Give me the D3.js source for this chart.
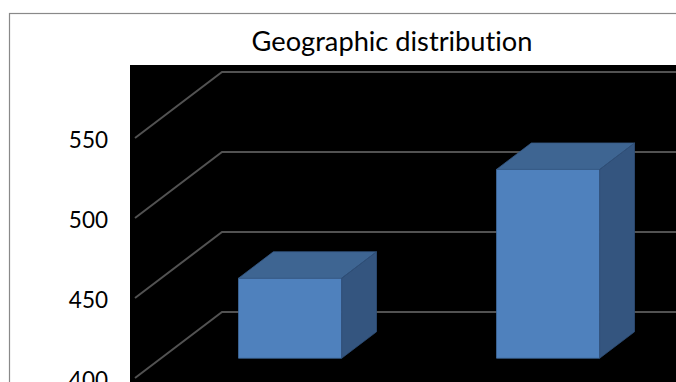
<!DOCTYPE html>
<html>
<head>
<meta charset="utf-8">
<script src="https://cdn.jsdelivr.net/npm/d3@7"></script>
<style>
  html, body { margin: 0; padding: 0; background: #fff; overflow: hidden; }
  svg { display: block; }
  text { font-variant-ligatures: none; font-feature-settings: "liga" 0, "clig" 0; }
</style>
</head>
<body>
<svg id="chart" width="676" height="382"></svg>
<script>
// Chart content
const chartTitle = "Geographic distribution";
const categories = ["Region 1", "Region 2"];
const values = [450, 518];
const tickValues = [400, 450, 500, 550];

const svg = d3.select("#chart");
const W = 676, H = 382;

// Oblique 3D projection: depth runs up and to the right
const depthDX = 87, depthDY = -66;
const frontLeft = 135, frontRight = 651;
const barDepth = [0.3, 0.7];

const x = d3.scaleBand()
  .domain(categories)
  .range([frontLeft, frontRight])
  .paddingInner(0.6)
  .paddingOuter(0.3);

const y = d3.scaleLinear()
  .domain([400, 550])
  .range([378, 138]);

// Project a (front x, value, depth fraction) point onto the page
function P(px, v, d) { return [px + d * depthDX, y(v) + d * depthDY]; }

// Outer chart frame
svg.append("rect")
  .attr("x", 9.5).attr("y", 13.5)
  .attr("width", W).attr("height", H)
  .attr("fill", "#fff")
  .attr("stroke", "#898989")
  .attr("stroke-width", 1.2);

// Title
const titleText = svg.append("text")
  .attr("x", 392).attr("y", 51)
  .attr("text-anchor", "middle")
  .attr("font-family", "Lato, 'Open Sans', sans-serif")
  .attr("font-size", 26)
  .attr("fill", "#000")
  .text(chartTitle);
const tw = titleText.node().getComputedTextLength();
titleText.attr("font-size", 26 * 281 / tw);

// Plot area
svg.append("rect")
  .attr("x", 130).attr("y", 65)
  .attr("width", W - 130 + 10).attr("height", H - 65 + 10)
  .attr("fill", "#000");

// Gridlines: side wall diagonal then along the back wall
const line = d3.line();
svg.append("g").selectAll("path")
  .data(tickValues)
  .join("path")
  .attr("d", t => line([P(frontLeft, t, 0), P(frontLeft, t, 1), [W + 20, y(t) + depthDY]]))
  .attr("fill", "none")
  .attr("stroke", "#525252")
  .attr("stroke-width", 2);

// Tick labels
svg.append("g").selectAll("text")
  .data(tickValues)
  .join("text")
  .attr("x", 108)
  .attr("y", t => y(t) + 10)
  .attr("text-anchor", "end")
  .attr("font-family", "Lato, 'Open Sans', sans-serif")
  .attr("font-size", 22.5)
  .attr("fill", "#000")
  .text(t => t);

// 3D columns
const base = y.domain()[0];
const bars = svg.append("g").selectAll("g")
  .data(categories.map((c, i) => ({ c, v: values[i] })))
  .join("g");

const poly = pts => "M" + pts.map(p => p.join(",")).join("L") + "Z";
const [d0, d1] = barDepth;

bars.append("path")
  .attr("d", d => {
    const x0 = x(d.c), x1 = x0 + x.bandwidth();
    return poly([P(x0, base, d0), P(x1, base, d0), P(x1, d.v, d0), P(x0, d.v, d0)]);
  })
  .attr("fill", "#4f81bd")
  .attr("stroke", "#3f6a9c")
  .attr("stroke-width", 0.8);

bars.append("path")
  .attr("d", d => {
    const x0 = x(d.c), x1 = x0 + x.bandwidth();
    return poly([P(x0, d.v, d0), P(x1, d.v, d0), P(x1, d.v, d1), P(x0, d.v, d1)]);
  })
  .attr("fill", "#3e6592")
  .attr("stroke", "#375b86")
  .attr("stroke-width", 0.8);

bars.append("path")
  .attr("d", d => {
    const x1 = x(d.c) + x.bandwidth();
    return poly([P(x1, base, d0), P(x1, base, d1), P(x1, d.v, d1), P(x1, d.v, d0)]);
  })
  .attr("fill", "#34557f")
  .attr("stroke", "#2f4e76")
  .attr("stroke-width", 0.8);
</script>
</body>
</html>
